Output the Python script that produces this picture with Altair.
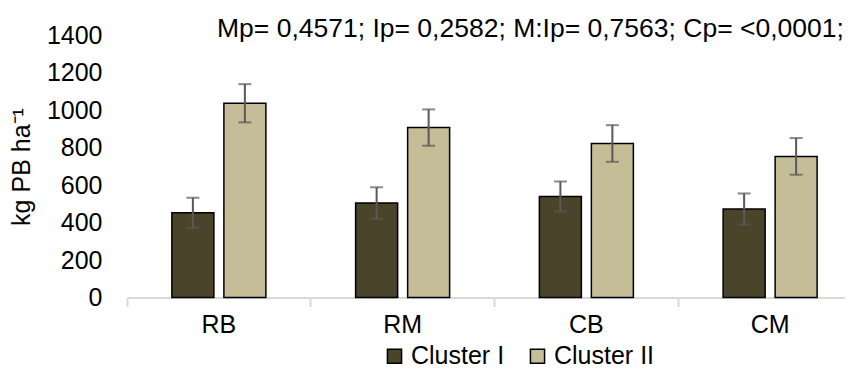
import altair as alt
import pandas as pd

categories = ["RB", "RM", "CB", "CM"]
clusters = ["Cluster I", "Cluster II"]
cluster1 = [453, 505, 540, 473]
cluster2 = [1038, 908, 823, 754]
err1 = [80, 84, 80, 83]
err2 = [102, 97, 98, 98]
colors = ["#4a442a", "#c4bd97"]
y_ticks = [0, 200, 400, 600, 800, 1000, 1200, 1400]
title_text = "Mp= 0,4571; Ip= 0,2582; M:Ip= 0,7563; Cp= <0,0001;"

rows = []
for i, c in enumerate(categories):
    rows.append({"cat": c, "cl": clusters[0], "v": cluster1[i], "lo": cluster1[i] - err1[i], "hi": cluster1[i] + err1[i]})
    rows.append({"cat": c, "cl": clusters[1], "v": cluster2[i], "lo": cluster2[i] - err2[i], "hi": cluster2[i] + err2[i]})
df = pd.DataFrame(rows)

FONT = "Liberation Sans"
FS = 25

x = alt.X("cat:N", sort=categories, title=None,
          scale=alt.Scale(paddingInner=0, paddingOuter=0, range=[0, 735]),
          axis=alt.Axis(labelAngle=0, labelFontSize=FS, labelColor="#000000", labelFont=FONT,
                        domainColor="#d9d9d9", domainWidth=2, tickColor="#d9d9d9", tickWidth=2,
                        tickSize=9, bandPosition=0, labelPadding=6))
xo = alt.XOffset("cl:N", sort=clusters, scale=alt.Scale(paddingInner=0.1923, paddingOuter=0.863))

yaxis = alt.Axis(values=y_ticks, format="d", labelOverlap=False, grid=False, domain=False,
                 ticks=False, labelFontSize=FS, labelColor="#000000", labelFont=FONT,
                 labelPadding=25, titleFontSize=FS, titleFont=FONT, titleFontWeight="normal",
                 titleColor="#000000", titlePadding=12, title="kg PB ha⁻¹")
yscale = alt.Scale(domain=[0, 1400])

base = alt.Chart(df)

bars = base.mark_bar(stroke="#000000", strokeWidth=1.5).encode(
    x=x, xOffset=xo,
    y=alt.Y("v:Q", scale=yscale, axis=yaxis),
    color=alt.Color("cl:N", sort=clusters, scale=alt.Scale(domain=clusters, range=colors),
                    legend=alt.Legend(title=None, orient="none", legendX=255, legendY=308,
                                      direction="horizontal", symbolType="square", symbolSize=200,
                                      symbolStrokeColor="#000000", symbolStrokeWidth=1.5,
                                      labelFontSize=FS, labelFont=FONT, labelColor="#000000",
                                      columnPadding=20, labelOffset=4)),
)

rules = base.mark_rule(color="#595959", strokeWidth=2).encode(
    x=x, xOffset=xo, y=alt.Y("lo:Q", scale=yscale, axis=yaxis), y2="hi:Q")

caps_lo = base.mark_tick(color="#595959", thickness=2, size=13, orient="horizontal").encode(
    x=x, xOffset=xo, y=alt.Y("lo:Q", scale=yscale, axis=yaxis))
caps_hi = base.mark_tick(color="#595959", thickness=2, size=13, orient="horizontal").encode(
    x=x, xOffset=xo, y=alt.Y("hi:Q", scale=yscale, axis=yaxis))

chart = alt.layer(bars, rules, caps_lo, caps_hi).properties(
    width=718, height=262,
    autosize=alt.AutoSizeParams(type="none"),
    padding={"left": 119, "top": 27.5, "right": 0, "bottom": 77},
    title=alt.TitleParams(title_text, anchor="start", frame="group", dx=90, fontSize=26.5, font=FONT,
                          fontWeight="normal", color="#000000", offset=-19),
).configure_view(stroke=None).configure_axisY(labelOverlap=False)

chart.save("out.html", embed_options={"renderer": "svg", "actions": False})
